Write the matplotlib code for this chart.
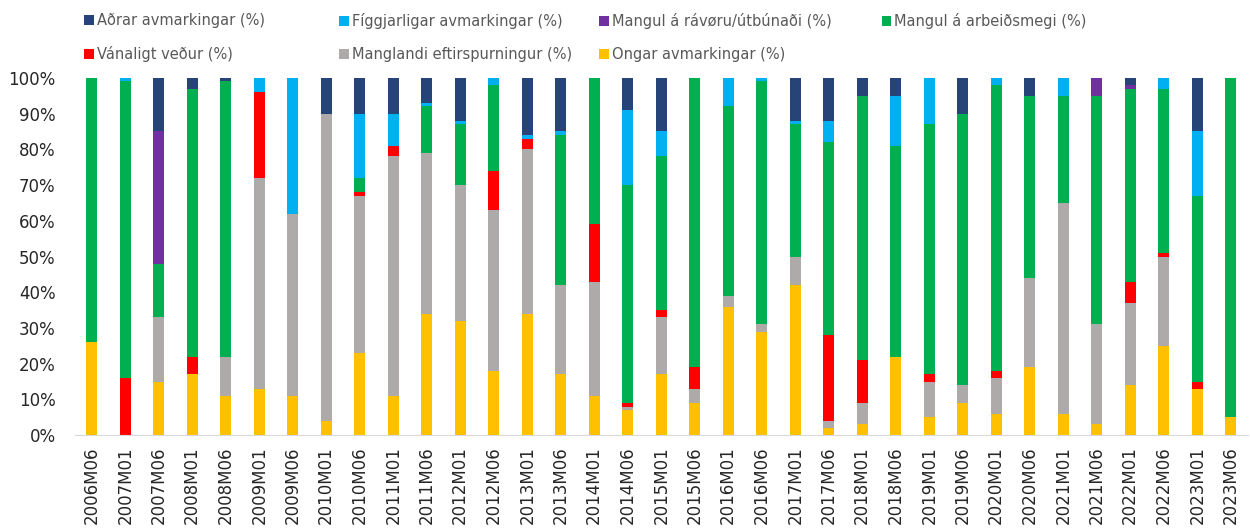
import numpy as np
import matplotlib
matplotlib.use("Agg")
import matplotlib.pyplot as plt
from matplotlib.patches import Patch

# === Datos ===
periodos = ["2006M06", "2007M01", "2007M06", "2008M01", "2008M06", "2009M01", "2009M06",
            "2010M01", "2010M06", "2011M01", "2011M06", "2012M01", "2012M06", "2013M01",
            "2013M06", "2014M01", "2014M06", "2015M01", "2015M06", "2016M01", "2016M06",
            "2017M01", "2017M06", "2018M01", "2018M06", "2019M01", "2019M06", "2020M01",
            "2020M06", "2021M01", "2021M06", "2022M01", "2022M06", "2023M01", "2023M06"]

ongar = [26, 0, 15, 17, 11, 13, 11, 4, 23, 11, 34, 32, 18, 34, 17, 11, 7, 17, 9, 36, 29, 42,
         2, 3, 22, 5, 9, 6, 19, 6, 3, 14, 25, 13, 5]
manglandi = [0, 0, 18, 0, 11, 59, 51, 86, 44, 67, 45, 38, 45, 46, 25, 32, 1, 16, 4, 3, 2, 8,
             2, 6, 0, 10, 5, 10, 25, 59, 28, 23, 25, 0, 0]
vanaligt = [0, 16, 0, 5, 0, 24, 0, 0, 1, 3, 0, 0, 11, 3, 0, 16, 1, 2, 6, 0, 0, 0,
            24, 12, 0, 2, 0, 2, 0, 0, 0, 6, 1, 2, 0]
arbeidsmegi = [74, 83, 15, 75, 77, 0, 0, 0, 4, 0, 13, 17, 24, 0, 42, 41, 61, 43, 81, 53, 68, 37,
               54, 74, 59, 70, 76, 80, 51, 30, 64, 54, 46, 52, 95]
ravoru = [0, 0, 37, 0, 0, 0, 0, 0, 0, 0, 0, 0, 0, 0, 0, 0, 0, 0, 0, 0, 0, 0,
          0, 0, 0, 0, 0, 0, 0, 0, 5, 1, 0, 0, 0]
figgjarligar = [0, 1, 0, 0, 0, 4, 38, 0, 18, 9, 1, 1, 2, 1, 1, 0, 21, 7, 0, 8, 1, 1,
                6, 0, 14, 13, 0, 2, 0, 5, 0, 0, 3, 18, 0]
adrar = [0, 0, 15, 3, 1, 0, 0, 10, 10, 10, 7, 12, 0, 16, 15, 0, 9, 15, 0, 0, 0, 12,
         12, 5, 5, 0, 10, 0, 5, 0, 0, 2, 0, 15, 0]

# orden de apilado (abajo -> arriba)
series = [
    ("Ongar avmarkingar (%)", ongar, "#ffc000"),
    ("Manglandi eftirspurningur (%)", manglandi, "#aeaaaa"),
    ("Vánaligt veður (%)", vanaligt, "#ff0000"),
    ("Mangul á arbeiðsmegi (%)", arbeidsmegi, "#00b050"),
    ("Mangul á rávøru/útbúnaði (%)", ravoru, "#7030a0"),
    ("Fíggjarligar avmarkingar (%)", figgjarligar, "#00b0f0"),
    ("Aðrar avmarkingar (%)", adrar, "#264478"),
]

# === Figura ===
fig = plt.figure(figsize=(12.5, 5.3), dpi=100)
ax = fig.add_axes([0.06, 0.179, 0.938, 0.674])

x = np.arange(len(periodos))
base = np.zeros(len(periodos))
colores = {}
for nombre, vals, color in series:
    vals = np.array(vals, dtype=float)
    ax.bar(x, vals, bottom=base, width=0.32, color=color, linewidth=0)
    base += vals
    colores[nombre] = color

ax.set_xlim(-0.5, len(periodos) - 0.5)
ax.set_ylim(0, 100)
ax.set_yticks(np.arange(0, 101, 10))
ax.set_yticklabels([f"{v}%" for v in range(0, 101, 10)], fontsize=12, color="#262626")
ax.set_xticks(x)
ax.set_xticklabels(periodos, rotation=90, fontsize=12, color="#262626")
ax.tick_params(axis="x", length=0, pad=8)
ax.tick_params(axis="y", length=0, pad=14)
for s in ["top", "right", "left"]:
    ax.spines[s].set_visible(False)
ax.spines["bottom"].set_color("#d9d9d9")

# === Leyenda (4 columnas colocadas a mano) ===
columnas = [
    (0.061, ["Aðrar avmarkingar (%)", "Vánaligt veður (%)"]),
    (0.265, ["Fíggjarligar avmarkingar (%)", "Manglandi eftirspurningur (%)"]),
    (0.473, ["Mangul á rávøru/útbúnaði (%)", "Ongar avmarkingar (%)"]),
    (0.699, ["Mangul á arbeiðsmegi (%)"]),
]
for xpos, nombres in columnas:
    handles = [Patch(facecolor=colores[n], edgecolor="none") for n in nombres]
    leg = fig.legend(handles, nombres, loc="upper left", bbox_to_anchor=(xpos, 0.99),
                     frameon=False, fontsize=10.5, handlelength=0.65, handleheight=0.65,
                     handletextpad=0.2, labelspacing=1.2, borderpad=0.55, borderaxespad=0)
    for t in leg.get_texts():
        t.set_color("#595959")

fig.savefig("out.png", dpi=100)
